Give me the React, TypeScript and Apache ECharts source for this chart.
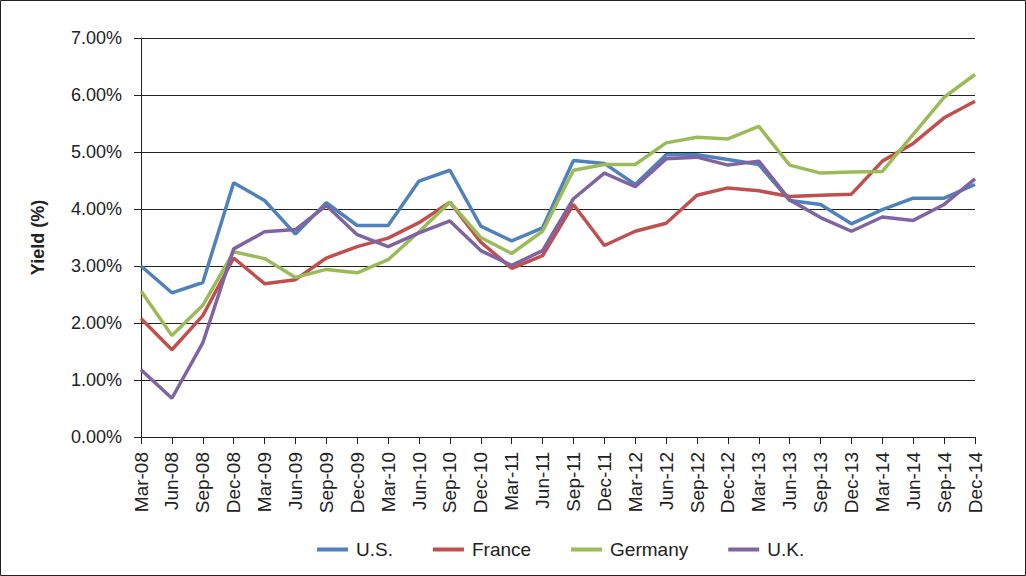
import React, { useEffect, useRef } from "react";
import * as echarts from "echarts";

const categories = [
  "Mar-08", "Jun-08", "Sep-08", "Dec-08", "Mar-09", "Jun-09", "Sep-09", "Dec-09",
  "Mar-10", "Jun-10", "Sep-10", "Dec-10", "Mar-11", "Jun-11", "Sep-11", "Dec-11",
  "Mar-12", "Jun-12", "Sep-12", "Dec-12", "Mar-13", "Jun-13", "Sep-13", "Dec-13",
  "Mar-14", "Jun-14", "Sep-14", "Dec-14",
];

const us = [
  3.0, 2.53, 2.71, 4.46, 4.15, 3.56, 4.11, 3.71, 3.71, 4.49, 4.68, 3.7, 3.44, 3.67,
  4.85, 4.8, 4.43, 4.95, 4.95, 4.87, 4.78, 4.15, 4.08, 3.74, 3.99, 4.19, 4.19, 4.43,
];
const france = [
  2.08, 1.53, 2.13, 3.14, 2.69, 2.76, 3.14, 3.34, 3.49, 3.76, 4.12, 3.42, 2.96, 3.18,
  4.08, 3.36, 3.61, 3.75, 4.24, 4.37, 4.32, 4.22, 4.24, 4.26, 4.84, 5.15, 5.6, 5.89,
];
const germany = [
  2.56, 1.78, 2.31, 3.25, 3.13, 2.8, 2.94, 2.88, 3.11, 3.6, 4.12, 3.5, 3.22, 3.61,
  4.68, 4.78, 4.78, 5.16, 5.26, 5.23, 5.45, 4.77, 4.63, 4.65, 4.66, 5.31, 5.96, 6.36,
];
const uk = [
  1.18, 0.68, 1.65, 3.3, 3.6, 3.64, 4.06, 3.55, 3.34, 3.58, 3.79, 3.27, 3.01, 3.27,
  4.18, 4.63, 4.39, 4.88, 4.91, 4.77, 4.84, 4.16, 3.85, 3.61, 3.86, 3.8, 4.08, 4.53,
];

const seriesNames = ["U.S.", "France", "Germany", "U.K."];
const seriesColors = ["#4F81BD", "#C0504D", "#9BBB59", "#8064A2"];

export default function App() {
  const ref = useRef<HTMLDivElement>(null);
  useEffect(() => {
    if (!ref.current) return;
    const chart = echarts.init(ref.current, undefined, { renderer: "svg" });
    const font = "'Liberation Sans', Arial, sans-serif";
    const data = [us, france, germany, uk];
    chart.setOption({
      animation: false,
      backgroundColor: "#fff",
      textStyle: { fontFamily: font },
      graphic: [
        {
          type: "rect",
          shape: { x: 0.5, y: 0.5, width: 1025, height: 575 },
          style: { fill: "none", stroke: "#222", lineWidth: 1 },
          silent: true,
        },
      ],
      grid: { left: 141, right: 51, top: 38, bottom: 139, containLabel: false },
      legend: {
        top: 535,
        left: 312,
        icon: "rect",
        itemWidth: 31,
        itemHeight: 4,
        itemGap: 40,
        textStyle: { fontFamily: font, fontSize: 19, color: "#222", padding: [0, 0, 0, 3] },
        data: seriesNames,
      },
      xAxis: {
        type: "category",
        data: categories,
        boundaryGap: false,
        axisLine: { lineStyle: { color: "#222", width: 1 } },
        axisTick: { show: true, length: 7, lineStyle: { color: "#222" }, alignWithLabel: true },
        axisLabel: {
          rotate: 90,
          interval: 0,
          fontSize: 19,
          color: "#222",
          fontFamily: font,
          margin: 15,
        },
        splitLine: { show: false },
      },
      yAxis: {
        type: "value",
        min: 0,
        max: 7,
        interval: 1,
        name: "Yield (%)",
        nameLocation: "middle",
        nameGap: 94,
        nameTextStyle: { fontSize: 18, fontWeight: "bold", color: "#222", fontFamily: font },
        axisLine: { show: true, lineStyle: { color: "#222", width: 1 } },
        axisTick: { show: true, length: 7, lineStyle: { color: "#222" } },
        axisLabel: {
          fontSize: 18,
          color: "#222",
          fontFamily: font,
          margin: 19,
          formatter: (v: number) => v.toFixed(2) + "%",
        },
        splitLine: { show: true, lineStyle: { color: "#222", width: 1 } },
      },
      series: seriesNames.map((name, i) => ({
        name,
        type: "line",
        data: data[i],
        symbol: "none",
        lineStyle: { color: seriesColors[i], width: 3.5 },
        itemStyle: { color: seriesColors[i] },
      })),
    });
    return () => chart.dispose();
  }, []);
  return (
    <div
      ref={ref}
      style={{ position: "absolute", left: 0, top: 0, width: 1026, height: 576 }}
    />
  );
}
